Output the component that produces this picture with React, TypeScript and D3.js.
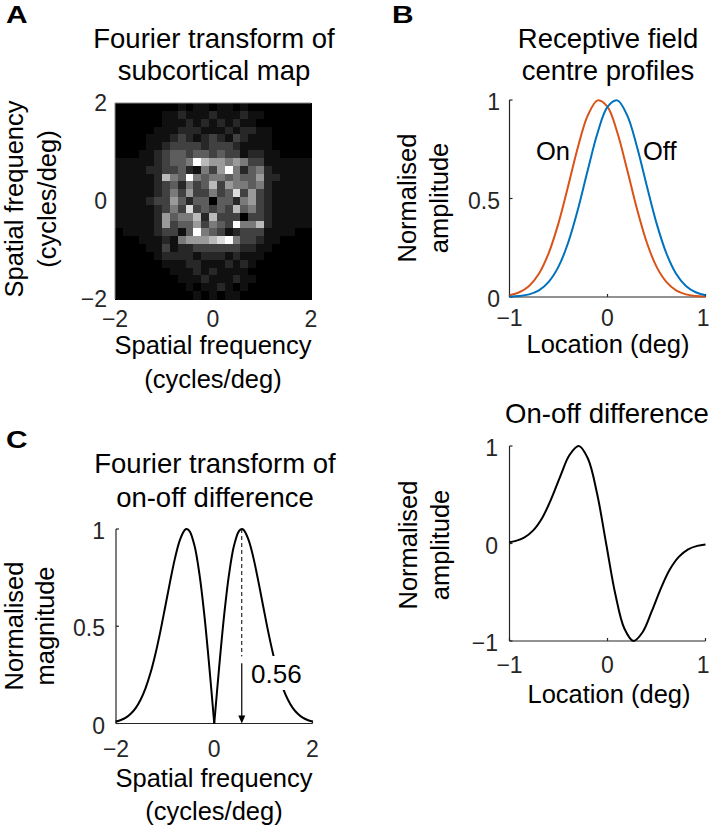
import React from 'react';
import * as d3 from 'd3';

// ---------- DATA ----------
// Panel A: Fourier transform of subcortical map (25x25 grey levels 0-9, row 0 = top)
const heatRows: string[] = [
  '0000000010110110100000000',
  '0000001121112111211000000',
  '0000001112121212110000000',
  '0000011122211121221100000',
  '0000111232123213211100000',
  '0000112333323332111100000',
  '0001123443443433122110000',
  '1111123445976656533111111',
  '1111223342153695245211111',
  '1111127549545545446221111',
  '1111123425347365545211111',
  '1111123536335348363211111',
  '1111233642440442563211111',
  '1111123538343437453211111',
  '1111126455727333033211111',
  '1111126344635439557211111',
  '0111123314954312333111100',
  '0001112156667895332110000',
  '0000113122333333221100000',
  '0000012222122212111000000',
  '0000001112211121210000000',
  '0000000111212111100000000',
  '0000000011121112110000000',
  '0000000001011210100000000',
  '0000000000101011000000000',
];
const freqTicks = [-2, 0, 2];

// Panel B top: receptive field centre profiles
const locX = [-1, -0.9, -0.8, -0.7, -0.6, -0.5, -0.4, -0.3, -0.2, -0.1, 0, 0.1, 0.2, 0.3, 0.4, 0.5, 0.6, 0.7, 0.8, 0.9, 1];
const onProfile = [0.009, 0.024, 0.056, 0.118, 0.223, 0.375, 0.566, 0.764, 0.923, 0.998, 0.965, 0.835, 0.647, 0.448, 0.278, 0.154, 0.077, 0.034, 0.0135, 0.005, 0.0015];
const offProfile = [0.0015, 0.005, 0.0135, 0.034, 0.077, 0.154, 0.278, 0.448, 0.647, 0.835, 0.965, 0.998, 0.923, 0.764, 0.566, 0.375, 0.223, 0.118, 0.056, 0.024, 0.009];
const locTicks = [-1, 0, 1];
const profTicks = [0, 0.5, 1];

// Panel B bottom: on-off difference
const diffX = [-1, -0.944, -0.851, -0.758, -0.665, -0.572, -0.479, -0.386, -0.293, -0.2, -0.107, -0.014, 0.079, 0.172, 0.265, 0.358, 0.451, 0.544, 0.637, 0.73, 0.823, 0.916, 1];
const diffY = [0.012, 0.024, 0.06, 0.135, 0.265, 0.462, 0.697, 0.91, 1, 0.872, 0.515, 0, -0.515, -0.872, -1, -0.91, -0.697, -0.462, -0.265, -0.135, -0.06, -0.024, -0.01];
const diffTicks = [-1, 0, 1];

// Panel C: Fourier transform magnitude of on-off difference (positive half; mirrored)
const freqPos = [0, 0.1, 0.2, 0.3, 0.4, 0.5, 0.56, 0.6, 0.7, 0.8, 0.9, 1.0, 1.1, 1.2, 1.3, 1.4, 1.5, 1.6, 1.7, 1.8, 1.9, 2.0];
const ftMag = [0, 0.29, 0.553, 0.765, 0.912, 0.988, 1, 0.995, 0.943, 0.849, 0.728, 0.598, 0.47, 0.355, 0.258, 0.181, 0.122, 0.079, 0.05, 0.03, 0.018, 0.01];
const magTicks = [0, 0.5, 1];
const peakFreq = 0.56;
const dashEnd = 0.345;
const arrowStart = 0.31;

// ---------- STYLE ----------
const FONT = "'Liberation Sans', Arial, Helvetica, sans-serif";
const AX = '#262626';
const ORANGE = '#D95319';
const BLUE = '#0072BD';
const TITLE = 27.5;
const LABEL = 25.5;
const TICK = 23;
const PAGE_W = 710;

const fmt = (v: number) => (v < 0 ? '\u2212' + Math.abs(v) : String(v));

function Lines({ x, y, lines, gap, size, anchor = 'middle' }: any) {
  return (
    <text x={x} y={y} fontSize={size} fontFamily={FONT} textAnchor={anchor} fill="#000">
      {lines.map((l: string, i: number) => (
        <tspan key={i} x={x} y={y + i * gap}>{l}</tspan>
      ))}
    </text>
  );
}

function VLabel({ x, cy, lines, gap }: any) {
  return (
    <g>
      {lines.map((l: string, i: number) => (
        <text key={i} transform={`translate(${x + i * gap},${cy}) rotate(-90)`} textAnchor="middle"
          fontSize={LABEL} fontFamily={FONT} fill="#000">{l}</text>
      ))}
    </g>
  );
}

function PanelLetter({ x, y, t }: any) {
  return (
    <text transform={`translate(${x},${y}) scale(1.3,1)`} fontSize={23} fontWeight="bold" fontFamily={FONT} fill="#000">{t}</text>
  );
}

function Axes({ xs, ys, xt, yt, xLabelY, yLabelRight }: any) {
  const [x0, x1] = xs.range();
  const [yb, yt0] = ys.range();
  return (
    <g>
      <line x1={x0} y1={yt0} x2={x0} y2={yb} stroke={AX} strokeWidth={1.2} />
      <line x1={x0} y1={yb} x2={x1} y2={yb} stroke={AX} strokeWidth={1.2} />
      {yt.map((v: number) => (
        <g key={'y' + v}>
          <line x1={x0} x2={x0 + 3} y1={ys(v)} y2={ys(v)} stroke={AX} strokeWidth={1.2} />
          <text x={yLabelRight} y={ys(v) + 10} textAnchor="end" fontSize={TICK} fontFamily={FONT} fill={AX}>{fmt(v)}</text>
        </g>
      ))}
      {xt.map((v: number) => {
        const edge = xs(v) + 7 > PAGE_W;
        return (
          <g key={'x' + v}>
            <line x1={xs(v)} x2={xs(v)} y1={yb} y2={yb - 3} stroke={AX} strokeWidth={1.2} />
            <text x={edge ? PAGE_W - 0.5 : xs(v)} y={xLabelY} textAnchor={edge ? 'end' : 'middle'}
              fontSize={TICK} fontFamily={FONT} fill={AX}>{fmt(v)}</text>
          </g>
        );
      })}
    </g>
  );
}

export default function App() {
  // scales
  const xA = d3.scaleLinear().domain([-2, 2]).range([115, 311]);
  const yA = d3.scaleLinear().domain([-2, 2]).range([299, 103]);
  const xB = d3.scaleLinear().domain([-1, 1]).range([509.5, 705.5]);
  const yB1 = d3.scaleLinear().domain([0, 1]).range([297, 100]);
  const yB2 = d3.scaleLinear().domain([-1, 1]).range([641, 446]);
  const xC = d3.scaleLinear().domain([-2, 2]).range([116, 312.5]);
  const yC = d3.scaleLinear().domain([0, 1]).range([723.5, 529]);

  const grey = (d: number) => {
    const g = Math.round(255 * Math.pow(d / 9, 1.25));
    return d3.rgb(g, g, g).formatHex();
  };
  const n = heatRows.length;
  const step = 4 / n;

  const curve = d3.curveCatmullRom.alpha(0.5);
  const lineB1 = d3.line<[number, number]>().x(d => xB(d[0])).y(d => yB1(d[1])).curve(curve);
  const lineB2 = d3.line<[number, number]>().x(d => xB(d[0])).y(d => yB2(d[1])).curve(curve);
  const lineC = d3.line<[number, number]>().x(d => xC(d[0])).y(d => yC(d[1])).curve(curve);

  const onPts = locX.map((x, i) => [x, onProfile[i]] as [number, number]);
  const offPts = locX.map((x, i) => [x, offProfile[i]] as [number, number]);
  const diffPts = diffX.map((x, i) => [x, diffY[i]] as [number, number]);
  const ftRight = freqPos.map((f, i) => [f, ftMag[i]] as [number, number]);
  const ftLeft = freqPos.map((f, i) => [-f, ftMag[i]] as [number, number]);

  const px = xC(peakFreq);
  const y0C = yC(0);

  return (
    <svg width={710} height={826} style={{ position: 'absolute', left: 0, top: 0, background: '#fff' }}>
      <rect x={0} y={0} width={710} height={826} fill="#fff" />

      {/* ---------- Panel A ---------- */}
      <PanelLetter x={6} y={23} t="A" />
      <Lines x={214} y={48} lines={['Fourier transform of', 'subcortical map']} gap={32} size={TITLE} />
      <g shapeRendering="crispEdges">
        {heatRows.map((row, j) =>
          row.split('').map((c, i) => {
            const x0 = xA(-2 + i * step), x1 = xA(-2 + (i + 1) * step);
            const y0 = yA(2 - j * step), y1 = yA(2 - (j + 1) * step);
            return <rect key={j + '-' + i} x={x0} y={y0} width={x1 - x0 + 0.5} height={y1 - y0 + 0.5} fill={grey(+c)} />;
          })
        )}
      </g>
      <line x1={xA(-2)} x2={xA(2)} y1={yA(2)} y2={yA(2)} stroke="#8a8a8a" strokeWidth={1} />
      <line x1={xA(-2)} x2={xA(-2)} y1={yA(2)} y2={yA(-2)} stroke="#8a8a8a" strokeWidth={1} />
      {freqTicks.map(v => (
        <text key={'ay' + v} x={107} y={yA(v) + 8} textAnchor="end" fontSize={TICK} fontFamily={FONT} fill={AX}>{fmt(v)}</text>
      ))}
      {freqTicks.map(v => (
        <text key={'ax' + v} x={xA(v)} y={327} textAnchor="middle" fontSize={TICK} fontFamily={FONT} fill={AX}>{fmt(v)}</text>
      ))}
      <Lines x={213} y={354} lines={['Spatial frequency', '(cycles/deg)']} gap={34} size={LABEL} />
      <VLabel x={23} cy={199} lines={['Spatial frequency', '(cycles/deg)']} gap={33} />

      {/* ---------- Panel B top ---------- */}
      <PanelLetter x={392} y={23} t="B" />
      <Lines x={608} y={48} lines={['Receptive field', 'centre profiles']} gap={32} size={TITLE} />
      <Axes xs={xB} ys={yB1} xt={locTicks} yt={profTicks} xLabelY={326} yLabelRight={500} />
      <path d={lineB1(onPts) || ''} fill="none" stroke={ORANGE} strokeWidth={2} />
      <path d={lineB1(offPts) || ''} fill="none" stroke={BLUE} strokeWidth={2} />
      <text x={570} y={160} textAnchor="end" fontSize={LABEL} fontFamily={FONT} fill="#000">On</text>
      <text x={643} y={160} textAnchor="start" fontSize={LABEL} fontFamily={FONT} fill="#000">Off</text>
      <Lines x={608} y={353} lines={['Location (deg)']} gap={34} size={LABEL} />
      <VLabel x={416} cy={198} lines={['Normalised', 'amplitude']} gap={32} />

      {/* ---------- Panel B bottom ---------- */}
      <Lines x={607} y={423} lines={['On-off difference']} gap={32} size={TITLE} />
      <Axes xs={xB} ys={yB2} xt={locTicks} yt={diffTicks} xLabelY={673} yLabelRight={498} />
      <path d={lineB2(diffPts) || ''} fill="none" stroke="#000" strokeWidth={2} />
      <Lines x={609} y={703} lines={['Location (deg)']} gap={34} size={LABEL} />
      <VLabel x={417} cy={545} lines={['Normalised', 'amplitude']} gap={32} />

      {/* ---------- Panel C ---------- */}
      <PanelLetter x={6} y={448} t="C" />
      <Lines x={215} y={473} lines={['Fourier transform of', 'on-off difference']} gap={34} size={TITLE} />
      <Axes xs={xC} ys={yC} xt={freqTicks} yt={magTicks} xLabelY={757} yLabelRight={105} />
      <path d={lineC(ftLeft) || ''} fill="none" stroke="#000" strokeWidth={2} />
      <path d={lineC(ftRight) || ''} fill="none" stroke="#000" strokeWidth={2} />
      <line x1={px} x2={px} y1={yC(1)} y2={yC(dashEnd)} stroke="#000" strokeWidth={1} strokeDasharray="4 3" />
      <rect x={246} y={656} width={62} height={34} fill="#fff" />
      <line x1={px} x2={px} y1={yC(arrowStart)} y2={y0C - 6} stroke="#000" strokeWidth={1.2} />
      <path d={`M${px},${y0C} L${px - 3.5},${y0C - 8} L${px + 3.5},${y0C - 8} Z`} fill="#000" />
      <text x={251} y={683} fontSize={26} fontFamily={FONT} fill="#000">{String(peakFreq)}</text>
      <Lines x={214} y={787} lines={['Spatial frequency', '(cycles/deg)']} gap={33} size={LABEL} />
      <VLabel x={23} cy={626} lines={['Normalised', 'magnitude']} gap={31} />
    </svg>
  );
}
